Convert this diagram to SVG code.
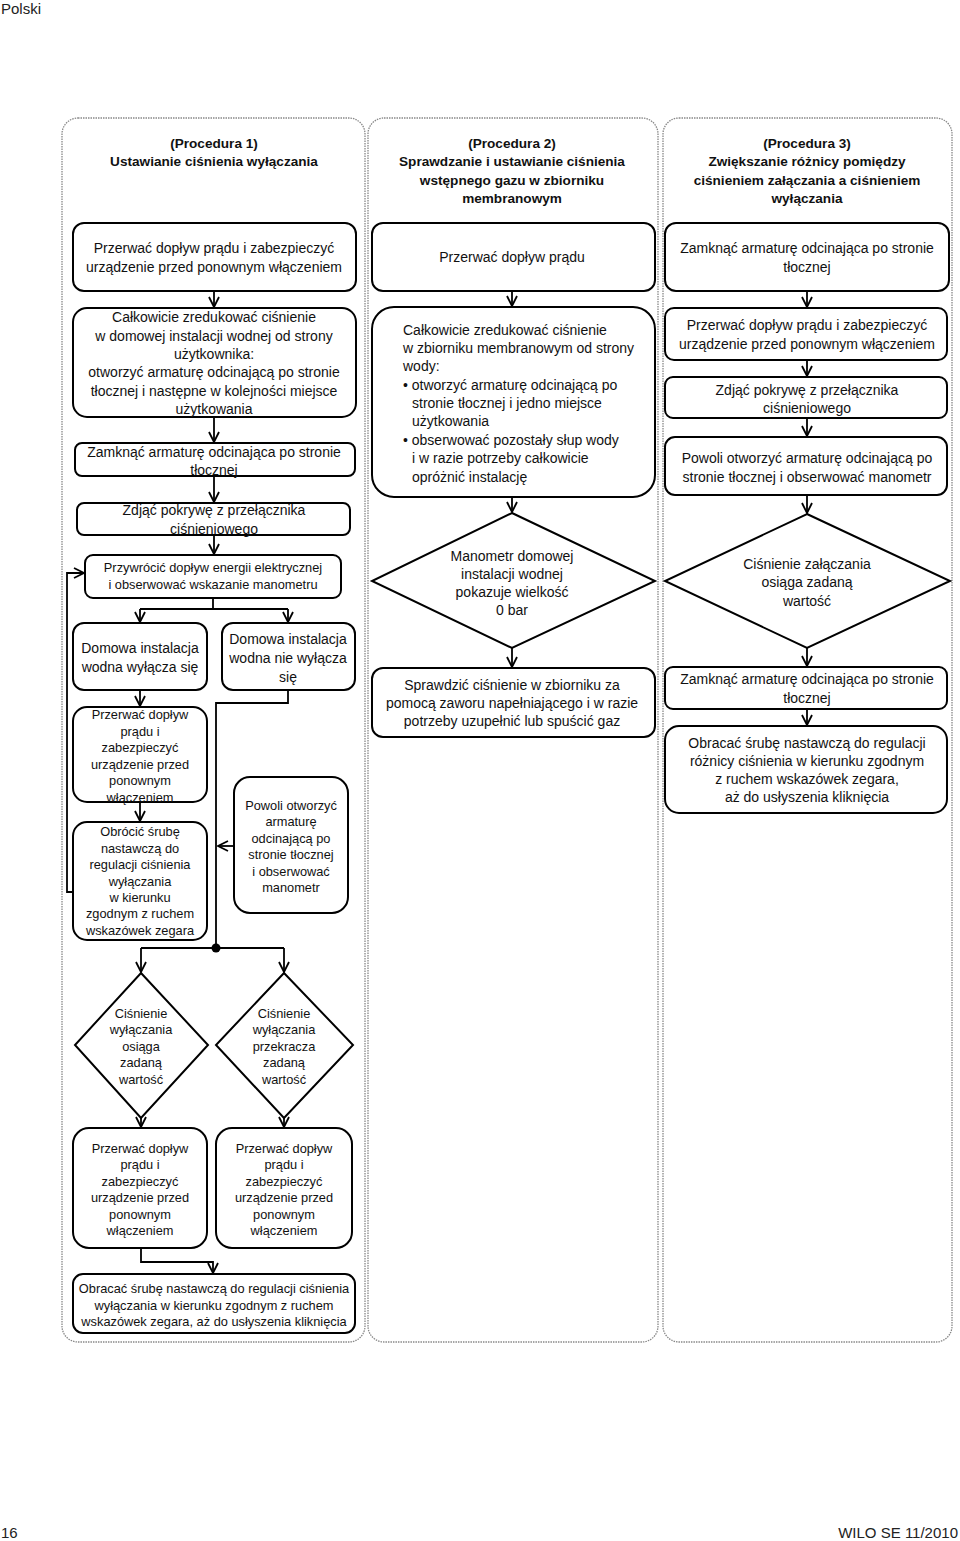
<svg xmlns="http://www.w3.org/2000/svg" width="960" height="1541" viewBox="0 0 960 1541">
<style>
.panel{fill:none;stroke:#888;stroke-width:1.3;stroke-dasharray:1.5 1}
.box{fill:#fff;stroke:#000;stroke-width:2}
.t{font-family:"Liberation Sans",Arial,sans-serif;font-size:14px;fill:#111;text-anchor:middle}
.s{font-size:12.8px}
.l{text-anchor:start}
.h{font-family:"Liberation Sans",Arial,sans-serif;font-size:13.6px;font-weight:bold;fill:#111;text-anchor:middle}
.c{fill:none;stroke:#000;stroke-width:1.8}
.pg{font-family:"Liberation Sans",Arial,sans-serif;font-size:15px;fill:#222}
</style>
<defs>
<marker id="ah" viewBox="0 0 12 12" refX="11" refY="6" markerWidth="12" markerHeight="12" markerUnits="userSpaceOnUse" orient="auto">
<path d="M1,1 L11,6 L1,11" fill="none" stroke="#000" stroke-width="1.8"/>
</marker>
</defs>
<rect width="960" height="1541" fill="#fff"/>
<text class="pg" x="1" y="14">Polski</text>
<text class="pg" x="1" y="1538">16</text>
<text class="pg" x="958" y="1538" text-anchor="end">WILO SE 11/2010</text>

<g id="panels">
<rect class="panel" x="62" y="118" width="303" height="1224" rx="16"/>
<rect class="panel" x="368" y="118" width="290" height="1224" rx="16"/>
<rect class="panel" x="663" y="118" width="289" height="1224" rx="16"/>
<text class="h" x="214" y="148">(Procedura 1)</text>
<text class="h" x="214" y="166">Ustawianie ciśnienia wyłączania</text>
<text class="h" x="512" y="148">(Procedura 2)</text>
<text class="h" x="512" y="166">Sprawdzanie i ustawianie ciśnienia</text>
<text class="h" x="512" y="185">wstępnego gazu w zbiorniku</text>
<text class="h" x="512" y="203">membranowym</text>
<text class="h" x="807" y="148">(Procedura 3)</text>
<text class="h" x="807" y="166">Zwiększanie różnicy pomiędzy</text>
<text class="h" x="807" y="185">ciśnieniem załączania a ciśnieniem</text>
<text class="h" x="807" y="203">wyłączania</text>
</g>

<g id="connectors">
<path class="c" d="M214,291 V307" marker-end="url(#ah)"/>
<path class="c" d="M214,417 V442" marker-end="url(#ah)"/>
<path class="c" d="M214,476 V502" marker-end="url(#ah)"/>
<path class="c" d="M214,535 V554" marker-end="url(#ah)"/>
<path class="c" d="M73,892 H67 V573 H84" marker-end="url(#ah)"/>
<path class="c" d="M213,598 V609 M140,609 H288"/>
<path class="c" d="M140,609 V622" marker-end="url(#ah)"/>
<path class="c" d="M288,609 V622" marker-end="url(#ah)"/>
<path class="c" d="M288,690 V703 H216 V948"/>
<path class="c" d="M140,690 V706" marker-end="url(#ah)"/>
<path class="c" d="M140,802 V821" marker-end="url(#ah)"/>
<path class="c" d="M234,846 H218" marker-end="url(#ah)"/>
<circle cx="216" cy="948" r="4.5" fill="#000"/>
<path class="c" d="M141,948 H284"/>
<path class="c" d="M141,948 V972" marker-end="url(#ah)"/>
<path class="c" d="M284,948 V972" marker-end="url(#ah)"/>
<path class="c" d="M141,1118 V1127" marker-end="url(#ah)"/>
<path class="c" d="M284,1118 V1127" marker-end="url(#ah)"/>
<path class="c" d="M141,1248 V1262 H213 V1273" marker-end="url(#ah)"/>
<path class="c" d="M512,291 V306" marker-end="url(#ah)"/>
<path class="c" d="M512,497 V512" marker-end="url(#ah)"/>
<path class="c" d="M512,648 V667" marker-end="url(#ah)"/>
<path class="c" d="M807,291 V307" marker-end="url(#ah)"/>
<path class="c" d="M807,360 V376" marker-end="url(#ah)"/>
<path class="c" d="M807,418 V436" marker-end="url(#ah)"/>
<path class="c" d="M807,495 V513" marker-end="url(#ah)"/>
<path class="c" d="M807,648 V666" marker-end="url(#ah)"/>
<path class="c" d="M807,709 V725" marker-end="url(#ah)"/>
</g>

<g id="p1-a"><rect class="box" x="73" y="223" width="283" height="68" rx="11"/>
<text class="t" x="214" y="253">Przerwać dopływ prądu i zabezpieczyć</text>
<text class="t" x="214" y="272">urządzenie przed ponownym włączeniem</text></g>

<g id="p1-b"><rect class="box" x="73" y="308" width="283" height="109" rx="14"/>
<text class="t" x="214" y="322">Całkowicie zredukować ciśnienie</text>
<text class="t" x="214" y="341">w domowej instalacji wodnej od strony</text>
<text class="t" x="214" y="359">użytkownika:</text>
<text class="t" x="214" y="377">otworzyć armaturę odcinającą po stronie</text>
<text class="t" x="214" y="396">tłocznej i następne w kolejności miejsce</text>
<text class="t" x="214" y="414">użytkowania</text></g>

<g id="p1-c"><rect class="box" x="75" y="443" width="280" height="33" rx="7"/>
<text class="t" x="214" y="457">Zamknąć armaturę odcinająca po stronie</text>
<text class="t" x="214" y="475">tłocznej</text></g>

<g id="p1-d"><rect class="box" x="77" y="503" width="273" height="32" rx="7"/>
<text class="t" x="214" y="515">Zdjąć pokrywę z przełącznika</text>
<text class="t" x="214" y="534">ciśnieniowego</text></g>

<g id="p1-e"><rect class="box" x="85" y="555" width="256" height="43" rx="8"/>
<text class="t s" x="213" y="572">Przywrócić dopływ energii elektrycznej</text>
<text class="t s" x="213" y="589">i obserwować wskazanie manometru</text></g>

<g id="p1-f"><rect class="box" x="73" y="623" width="134" height="67" rx="11"/>
<text class="t" x="140" y="653">Domowa instalacja</text>
<text class="t" x="140" y="672">wodna wyłącza się</text></g>

<g id="p1-g"><rect class="box" x="222" y="623" width="133" height="67" rx="11"/>
<text class="t" x="288" y="644">Domowa instalacja</text>
<text class="t" x="288" y="663">wodna nie wyłącza</text>
<text class="t" x="288" y="682">się</text></g>

<g id="p1-h"><rect class="box" x="73" y="707" width="134" height="95" rx="14"/>
<text class="t s" x="140" y="719">Przerwać dopływ</text>
<text class="t s" x="140" y="736">prądu i</text>
<text class="t s" x="140" y="752">zabezpieczyć</text>
<text class="t s" x="140" y="769">urządzenie przed</text>
<text class="t s" x="140" y="785">ponownym</text>
<text class="t s" x="140" y="802">włączeniem</text></g>

<g id="p1-i"><rect class="box" x="73" y="822" width="134" height="118" rx="14"/>
<text class="t s" x="140" y="836">Obrócić śrubę</text>
<text class="t s" x="140" y="853">nastawczą do</text>
<text class="t s" x="140" y="869">regulacji ciśnienia</text>
<text class="t s" x="140" y="886">wyłączania</text>
<text class="t s" x="140" y="902">w kierunku</text>
<text class="t s" x="140" y="918">zgodnym z ruchem</text>
<text class="t s" x="140" y="935">wskazówek zegara</text></g>

<g id="p1-j"><rect class="box" x="234" y="777" width="114" height="136" rx="16"/>
<text class="t s" x="291" y="810">Powoli otworzyć</text>
<text class="t s" x="291" y="826">armaturę</text>
<text class="t s" x="291" y="843">odcinającą po</text>
<text class="t s" x="291" y="859">stronie tłocznej</text>
<text class="t s" x="291" y="876">i obserwować</text>
<text class="t s" x="291" y="892">manometr</text></g>

<g id="p1-k"><polygon class="box" points="141,973 208,1045 141,1118 75,1045"/>
<text class="t s" x="141" y="1018">Ciśnienie</text>
<text class="t s" x="141" y="1034">wyłączania</text>
<text class="t s" x="141" y="1051">osiąga</text>
<text class="t s" x="141" y="1067">zadaną</text>
<text class="t s" x="141" y="1084">wartość</text></g>

<g id="p1-l"><polygon class="box" points="284,973 353,1045 284,1118 216,1045"/>
<text class="t s" x="284" y="1018">Ciśnienie</text>
<text class="t s" x="284" y="1034">wyłączania</text>
<text class="t s" x="284" y="1051">przekracza</text>
<text class="t s" x="284" y="1067">zadaną</text>
<text class="t s" x="284" y="1084">wartość</text></g>

<g id="p1-m"><rect class="box" x="73" y="1128" width="134" height="120" rx="16"/>
<text class="t s" x="140" y="1153">Przerwać dopływ</text>
<text class="t s" x="140" y="1169">prądu i</text>
<text class="t s" x="140" y="1186">zabezpieczyć</text>
<text class="t s" x="140" y="1202">urządzenie przed</text>
<text class="t s" x="140" y="1219">ponownym</text>
<text class="t s" x="140" y="1235">włączeniem</text></g>

<g id="p1-n"><rect class="box" x="216" y="1128" width="136" height="120" rx="16"/>
<text class="t s" x="284" y="1153">Przerwać dopływ</text>
<text class="t s" x="284" y="1169">prądu i</text>
<text class="t s" x="284" y="1186">zabezpieczyć</text>
<text class="t s" x="284" y="1202">urządzenie przed</text>
<text class="t s" x="284" y="1219">ponownym</text>
<text class="t s" x="284" y="1235">włączeniem</text></g>

<g id="p1-o"><rect class="box" x="73" y="1274" width="282" height="59" rx="10"/>
<text class="t s" x="214" y="1293">Obracać śrubę nastawczą do regulacji ciśnienia</text>
<text class="t s" x="214" y="1310">wyłączania w kierunku zgodnym z ruchem</text>
<text class="t s" x="214" y="1326">wskazówek zegara, aż do usłyszenia kliknięcia</text></g>

<g id="p2-a"><rect class="box" x="372" y="223" width="283" height="68" rx="11"/>
<text class="t" x="512" y="262">Przerwać dopływ prądu</text></g>

<g id="p2-b"><rect class="box" x="372" y="307" width="283" height="190" rx="22"/>
<text class="t l" x="403" y="335">Całkowicie zredukować ciśnienie</text>
<text class="t l" x="403" y="353">w zbiorniku membranowym od strony</text>
<text class="t l" x="403" y="371">wody:</text>
<text class="t l" x="403" y="390">• otworzyć armaturę odcinającą po</text>
<text class="t l" x="412" y="408">stronie tłocznej i jedno miejsce</text>
<text class="t l" x="412" y="426">użytkowania</text>
<text class="t l" x="403" y="445">• obserwować pozostały słup wody</text>
<text class="t l" x="412" y="463">i w razie potrzeby całkowicie</text>
<text class="t l" x="412" y="482">opróżnić instalację</text></g>

<g id="p2-c"><polygon class="box" points="512,513 655,581 512,648 372,581"/>
<text class="t" x="512" y="561">Manometr domowej</text>
<text class="t" x="512" y="579">instalacji wodnej</text>
<text class="t" x="512" y="597">pokazuje wielkość</text>
<text class="t" x="512" y="615">0 bar</text></g>

<g id="p2-d"><rect class="box" x="372" y="668" width="283" height="69" rx="11"/>
<text class="t" x="512" y="690">Sprawdzić ciśnienie w zbiorniku za</text>
<text class="t" x="512" y="708">pomocą zaworu napełniającego i w razie</text>
<text class="t" x="512" y="726">potrzeby uzupełnić lub spuścić gaz</text></g>

<g id="p3-a"><rect class="box" x="665" y="223" width="284" height="68" rx="11"/>
<text class="t" x="807" y="253">Zamknąć armaturę odcinająca po stronie</text>
<text class="t" x="807" y="272">tłocznej</text></g>

<g id="p3-b"><rect class="box" x="665" y="308" width="282" height="52" rx="9"/>
<text class="t" x="807" y="330">Przerwać dopływ prądu i zabezpieczyć</text>
<text class="t" x="807" y="349">urządzenie przed ponownym włączeniem</text></g>

<g id="p3-c"><rect class="box" x="665" y="377" width="282" height="41" rx="8"/>
<text class="t" x="807" y="395">Zdjąć pokrywę z przełącznika</text>
<text class="t" x="807" y="413">ciśnieniowego</text></g>

<g id="p3-d"><rect class="box" x="665" y="437" width="282" height="58" rx="10"/>
<text class="t" x="807" y="463">Powoli otworzyć armaturę odcinającą po</text>
<text class="t" x="807" y="482">stronie tłocznej i obserwować manometr</text></g>

<g id="p3-e"><polygon class="box" points="807,514 950,581 807,648 665,581"/>
<text class="t" x="807" y="569">Ciśnienie załączania</text>
<text class="t" x="807" y="587">osiąga zadaną</text>
<text class="t" x="807" y="606">wartość</text></g>

<g id="p3-f"><rect class="box" x="665" y="667" width="282" height="42" rx="8"/>
<text class="t" x="807" y="684">Zamknąć armaturę odcinająca po stronie</text>
<text class="t" x="807" y="703">tłocznej</text></g>

<g id="p3-g"><rect class="box" x="665" y="726" width="282" height="87" rx="14"/>
<text class="t" x="807" y="748">Obracać śrubę nastawczą do regulacji</text>
<text class="t" x="807" y="766">różnicy ciśnienia w kierunku zgodnym</text>
<text class="t" x="807" y="784">z ruchem wskazówek zegara,</text>
<text class="t" x="807" y="802">aż do usłyszenia kliknięcia</text></g>
</svg>
